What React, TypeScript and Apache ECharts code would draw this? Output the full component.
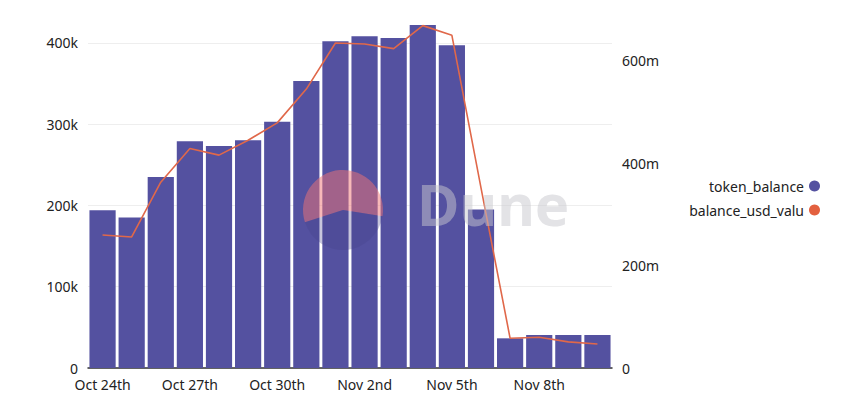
import React, { useEffect, useRef } from "react";
import * as echarts from "echarts";

const categories = [
  "Oct 24th", "Oct 25th", "Oct 26th", "Oct 27th", "Oct 28th", "Oct 29th",
  "Oct 30th", "Oct 31st", "Nov 1st", "Nov 2nd", "Nov 3rd", "Nov 4th",
  "Nov 5th", "Nov 6th", "Nov 7th", "Nov 8th", "Nov 9th", "Nov 10th",
];
const tokenBalance = [
  194000, 185000, 235000, 279000, 273000, 280000, 303000, 353000, 402000,
  408000, 406000, 422000, 397000, 195000, 36500, 40600, 40600, 40600,
];
const balanceUsdValue = [
  260e6, 256e6, 363e6, 429e6, 416e6, 445e6, 479e6, 545e6, 635e6,
  633e6, 624e6, 669e6, 650e6, 352e6, 58e6, 60e6, 51e6, 47e6,
];
const legendLabels: Record<string, string> = {
  token_balance: "token_balance",
  balance_usd_value: "balance_usd_valu",
};

const FONT = "Noto Sans";

export default function App() {
  const ref = useRef<HTMLDivElement>(null);
  useEffect(() => {
    if (!ref.current) return;
    const chart = echarts.init(ref.current, undefined, { renderer: "svg" });
    chart.setOption({
      animation: false,
      textStyle: { fontFamily: FONT },
      grid: { left: 88, right: 236, top: 20, bottom: 31 },
      legend: {
        orient: "vertical",
        right: 23,
        top: 174,
        align: "right",
        icon: "circle",
        itemWidth: 11,
        itemHeight: 11,
        itemGap: 10,
        formatter: (name: string) => legendLabels[name] ?? name,
        textStyle: {
          fontFamily: FONT,
          fontSize: 14,
          color: "#222",
        },
        data: [
          { name: "token_balance", itemStyle: { color: "#5451a0" } },
          { name: "balance_usd_value", itemStyle: { color: "#e3603f" } },
        ],
      },
      xAxis: {
        type: "category",
        data: categories,
        axisLine: { show: true, lineStyle: { color: "#333", width: 1.5 } },
        axisTick: { show: false },
        axisLabel: {
          interval: 2,
          color: "#222",
          fontSize: 14,
          fontFamily: FONT,
          margin: 9,
        },
      },
      yAxis: [
        {
          type: "value",
          min: 0,
          max: 428000,
          interval: 100000,
          axisLine: { show: false },
          axisTick: { show: false },
          axisLabel: {
            color: "#222",
            fontSize: 14,
            fontFamily: FONT,
            margin: 10,
            showMaxLabel: false,
            formatter: (v: number) => (v === 0 ? "0" : v / 1000 + "k"),
          },
          splitLine: {
            show: true,
            showMaxLine: false,
            lineStyle: { color: "#eeeeee", width: 1 },
          },
        },
        {
          type: "value",
          min: 0,
          max: 680e6,
          interval: 200e6,
          axisLine: { show: false },
          axisTick: { show: false },
          axisLabel: {
            color: "#222",
            fontSize: 14,
            fontFamily: FONT,
            margin: 10,
            showMaxLabel: false,
            formatter: (v: number) => (v === 0 ? "0" : v / 1e6 + "m"),
          },
          splitLine: { show: false },
        },
      ],
      graphic: [
        {
          type: "sector",
          silent: true,
          z: 100,
          x: 343,
          y: 210,
          shape: { cx: 0, cy: 0, r: 40, r0: 0, startAngle: Math.PI * 0.9, endAngle: Math.PI * 2.05, clockwise: true },
          style: { fill: "rgba(240,115,115,0.5)" },
        },
        {
          type: "sector",
          silent: true,
          z: 100,
          x: 343,
          y: 210,
          shape: { cx: 0, cy: 0, r: 40, r0: 0, startAngle: Math.PI * 0.05, endAngle: Math.PI * 0.9, clockwise: true },
          style: { fill: "rgba(70,65,140,0.3)" },
        },
        {
          type: "text",
          silent: true,
          z: 100,
          x: 417,
          y: 174,
          style: {
            text: "Dune",
            fontFamily: FONT,
            fontSize: 58,
            fontWeight: "bold",
            fill: "rgba(200,200,205,0.5)",
          },
        },
      ],
      series: [
        {
          name: "token_balance",
          type: "bar",
          yAxisIndex: 0,
          data: tokenBalance,
          barCategoryGap: "10%",
          itemStyle: { color: "#5451a0" },
        },
        {
          name: "balance_usd_value",
          type: "line",
          yAxisIndex: 1,
          data: balanceUsdValue,
          symbol: "none",
          lineStyle: { color: "#e0684a", width: 1.6 },
          itemStyle: { color: "#e3603f" },
          z: 5,
        },
      ],
    });
    return () => chart.dispose();
  }, []);
  return (
    <div
      ref={ref}
      style={{ position: "absolute", left: 0, top: 0, width: 848, height: 399 }}
    />
  );
}
